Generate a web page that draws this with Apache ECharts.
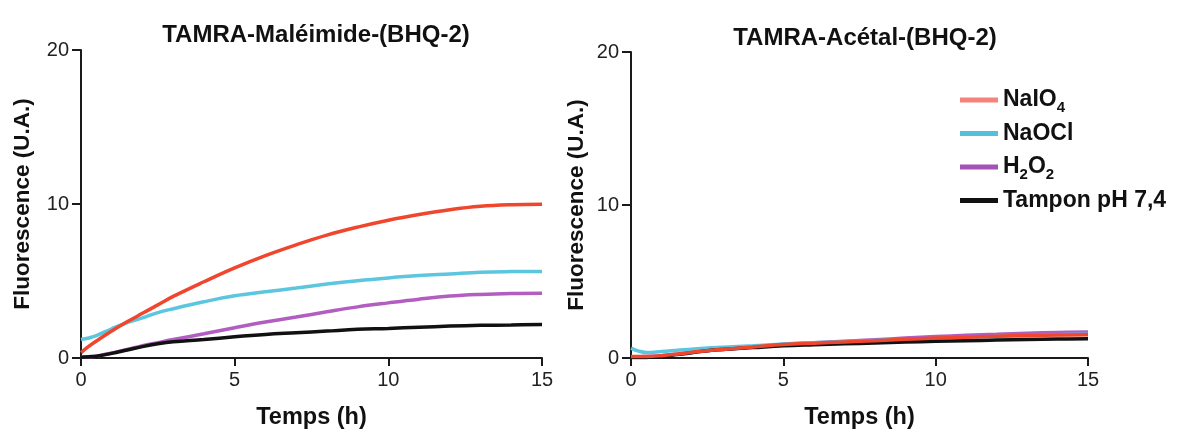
<!DOCTYPE html>
<html><head><meta charset="utf-8">
<script src="https://cdn.jsdelivr.net/npm/echarts@6/dist/echarts.min.js"></script>
<style>html,body{margin:0;padding:0;background:#fff}#c{width:1189px;height:435px}</style>
</head><body><div id="c"></div>
<script>
const times = [0,0.25,0.5,1,1.5,2,2.5,3,4,5,6,7,8,9,10,11,12,13,14,15];
const seriesNames = ['NaIO4','NaOCl','H2O2','Tampon pH 7,4'];
const xTicks = [0,5,10,15];
const yTicks = [0,10,20];
// left panel: TAMRA-Maléimide-(BHQ-2)
const leftNaIO4 = [0.35,0.75,1.1,1.75,2.35,2.9,3.45,4.0,4.95,5.85,6.65,7.35,7.98,8.5,8.95,9.32,9.63,9.85,9.95,9.98];
const leftNaOCl = [1.2,1.3,1.45,1.9,2.3,2.6,2.95,3.2,3.65,4.04,4.3,4.54,4.8,5.02,5.2,5.35,5.46,5.57,5.61,5.62];
const leftH2O2 = [0.05,0.08,0.12,0.33,0.55,0.8,1.0,1.2,1.57,1.97,2.34,2.66,3.0,3.32,3.58,3.82,4.02,4.13,4.19,4.21];
const leftTampon = [0.05,0.08,0.12,0.3,0.52,0.74,0.92,1.05,1.2,1.38,1.53,1.64,1.75,1.86,1.92,2.0,2.07,2.12,2.14,2.18];
// right panel: TAMRA-Acétal-(BHQ-2)
const rightNaIO4 = [0.1,0.1,0.1,0.15,0.25,0.38,0.48,0.56,0.72,0.88,0.97,1.05,1.13,1.22,1.3,1.36,1.42,1.47,1.5,1.52];
const rightNaOCl = [0.65,0.45,0.36,0.42,0.5,0.58,0.65,0.7,0.8,0.92,1.0,1.07,1.14,1.2,1.26,1.33,1.4,1.46,1.52,1.56];
const rightH2O2 = [0.08,0.08,0.1,0.15,0.25,0.38,0.48,0.56,0.72,0.9,1.0,1.1,1.2,1.3,1.4,1.48,1.55,1.62,1.67,1.7];
const rightTampon = [0.03,0.03,0.04,0.1,0.22,0.35,0.48,0.56,0.68,0.8,0.87,0.93,0.98,1.04,1.09,1.13,1.17,1.21,1.24,1.26];

const lineColors = {'NaIO4':'#f0462d','NaOCl':'#5cc6df','H2O2':'#b25ec0','Tampon pH 7,4':'#111111'};
const legendColors = {'NaIO4':'#f5837c','NaOCl':'#52c1dc','H2O2':'#a452b3','Tampon pH 7,4':'#111111'};
const FONT = '"Liberation Sans", Arial, sans-serif';

function pairs(v){ return times.map((t,i)=>[t,v[i]]); }
const chart = echarts.init(document.getElementById('c'));
function mkX(idx){
  return {gridIndex:idx,type:'value',min:0,max:15,interval:5,
    name:'Temps (h)',nameLocation:'middle',nameGap:48,
    nameTextStyle:{fontFamily:FONT,fontWeight:'bold',fontSize:23.5,color:'#111'},
    axisLine:{lineStyle:{color:'#1a1a1a',width:2}},
    axisTick:{length:8,lineStyle:{color:'#1a1a1a',width:2}},
    axisLabel:{fontFamily:FONT,fontSize:20,color:'#222',margin:12},
    splitLine:{show:false}};
}
function mkY(idx,gap){
  return {gridIndex:idx,type:'value',min:0,max:20,interval:10,
    name:'Fluorescence (U.A.)',nameLocation:'middle',nameGap:gap,
    nameTextStyle:{fontFamily:FONT,fontWeight:'bold',fontSize:22.5,color:'#111'},
    axisLine:{show:true,lineStyle:{color:'#1a1a1a',width:2}},
    axisTick:{show:true,length:9,lineStyle:{color:'#1a1a1a',width:2}},
    axisLabel:{fontFamily:FONT,fontSize:20,color:'#222',margin:12},
    splitLine:{show:false}};
}
function mkS(name,vals,idx,z){
  return {name:name,type:'line',xAxisIndex:idx,yAxisIndex:idx,data:pairs(vals),
    smooth:0.4,showSymbol:false,symbol:'none',z:z,
    lineStyle:{color:lineColors[name],width:3.5},itemStyle:{color:legendColors[name]}};
}
chart.setOption({
  animation:false,
  title:[
    {text:'TAMRA-Maléimide-(BHQ-2)',left:311,top:18,textAlign:'center',
     textStyle:{fontFamily:FONT,fontWeight:'bold',fontSize:24,color:'#111'}},
    {text:'TAMRA-Acétal-(BHQ-2)',left:860,top:21,textAlign:'center',
     textStyle:{fontFamily:FONT,fontWeight:'bold',fontSize:24,color:'#111'}}
  ],
  legend:{orient:'vertical',left:955,top:80,itemWidth:38,itemHeight:5,itemGap:3.5,icon:'rect',
    data:seriesNames.map(n=>({name:n,itemStyle:{color:legendColors[n]}})),
    formatter:function(n){
      if(n==='NaIO4') return 'NaIO{s|4}';
      if(n==='H2O2') return 'H{s|2}O{s|2}';
      return n;
    },
    textStyle:{fontFamily:FONT,fontWeight:'bold',fontSize:23,lineHeight:30,color:'#111',
      rich:{s:{fontFamily:FONT,fontWeight:'bold',fontSize:15,lineHeight:30,color:'#111',verticalAlign:'bottom'}}}},
  grid:[
    {left:81,top:50,width:461,height:308},
    {left:631,top:52,width:457,height:307}
  ],
  xAxis:[mkX(0),mkX(1)],
  yAxis:[mkY(0,47),mkY(1,43)],
  series:[
    mkS('H2O2',leftH2O2,0,2),mkS('NaOCl',leftNaOCl,0,3),mkS('NaIO4',leftNaIO4,0,4),mkS('Tampon pH 7,4',leftTampon,0,5),
    mkS('H2O2',rightH2O2,1,2),mkS('NaOCl',rightNaOCl,1,3),mkS('Tampon pH 7,4',rightTampon,1,4),mkS('NaIO4',rightNaIO4,1,5)
  ]
});
</script></body></html>
